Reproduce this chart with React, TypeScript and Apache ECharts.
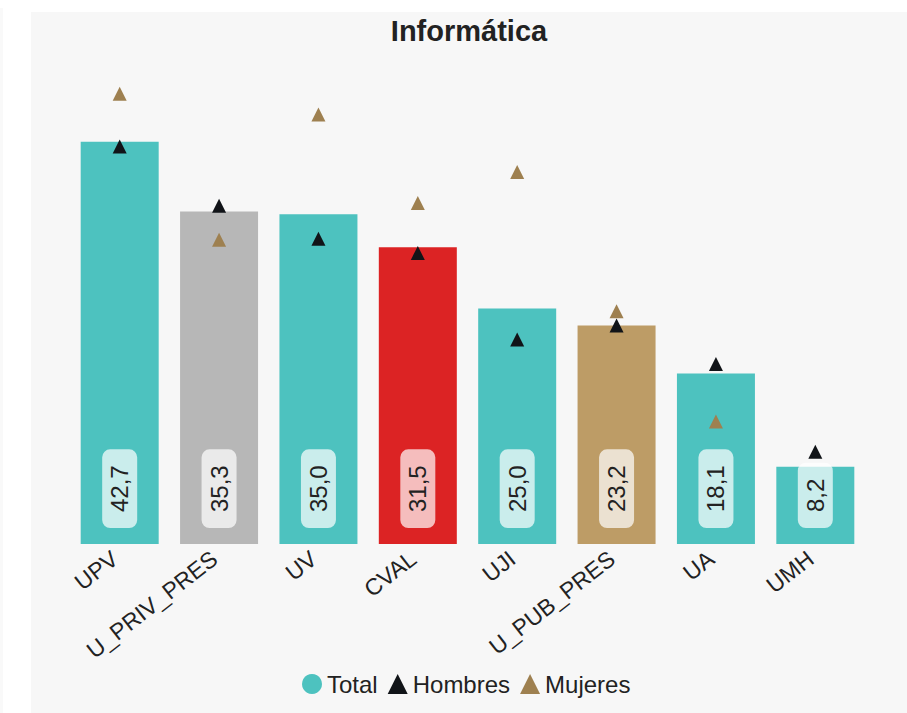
import React, { useEffect, useRef } from "react";
import * as echarts from "echarts";

const categories = ["UPV", "U_PRIV_PRES", "UV", "CVAL", "UJI", "U_PUB_PRES", "UA", "UMH"];
const totalValues = [42.7, 35.3, 35.0, 31.5, 25.0, 23.2, 18.1, 8.2];
const hombresValues = [42.2, 35.9, 32.4, 30.9, 21.7, 23.2, 19.1, 9.8];
const mujeresValues: (number | null)[] = [47.8, 32.3, 45.6, 36.2, 39.5, 24.7, 13.0, null];
const barColors = ["#4dc2bf", "#b7b7b7", "#4dc2bf", "#dc2324", "#4dc2bf", "#bd9c66", "#4dc2bf", "#4dc2bf"];

const FONT = "'Liberation Sans', Arial, Helvetica, sans-serif";

export default function App() {
  const ref = useRef<HTMLDivElement>(null);

  useEffect(() => {
    if (!ref.current) return;
    const chart = echarts.init(ref.current, undefined, { renderer: "svg" });
    chart.setOption({
      animation: false,
      backgroundColor: "#f7f7f7",
      textStyle: { fontFamily: FONT },
      title: {
        text: "Informática",
        left: "center",
        top: -1,
        textStyle: { fontSize: 29, fontWeight: "bold", color: "#222", fontFamily: FONT },
      },
      legend: {
        top: 655,
        left: 266,
        itemWidth: 20,
        itemHeight: 20,
        itemGap: 10,
        textStyle: { fontSize: 24, color: "#222", fontFamily: FONT },
        data: [
          { name: "Total", icon: "circle", itemStyle: { color: "#4dc2bf" } },
          { name: "Hombres", icon: "triangle" },
          { name: "Mujeres", icon: "triangle" },
        ],
      },
      grid: { left: 39, right: 42, top: 61, bottom: 169, outerBoundsMode: "none" },
      xAxis: {
        type: "category",
        data: categories,
        axisLine: { show: false },
        axisTick: { show: false },
        axisLabel: {
          rotate: 38,
          margin: 8,
          interval: 0,
          fontSize: 23,
          color: "#222",
          fontFamily: FONT,
          padding: [0, 6, 0, 0],
        },
      },
      yAxis: { type: "value", min: 0, max: 50, show: false, splitLine: { show: false } },
      series: [
        {
          name: "Total",
          type: "bar",
          barWidth: 78,
          itemStyle: { color: "#4dc2bf" },
          data: totalValues.map((v, i) => ({ value: v, itemStyle: { color: barColors[i] } })),
          label: {
            show: true,
            position: "insideBottom",
            rotate: 90,
            align: "left",
            verticalAlign: "middle",
            distance: 16,
            fontSize: 24,
            lineHeight: 25,
            color: "#222",
            fontFamily: FONT,
            backgroundColor: "rgba(255,255,255,0.7)",
            borderRadius: 8,
            padding: [5, 16],
            formatter: (p: any) => Number(p.value).toFixed(1).replace(".", ","),
          },
          z: 2,
        },
        {
          name: "Hombres",
          type: "scatter",
          symbol: "triangle",
          symbolSize: 14,
          itemStyle: { color: "#111418", opacity: 1 },
          data: hombresValues,
          z: 5,
        },
        {
          name: "Mujeres",
          type: "scatter",
          symbol: "triangle",
          symbolSize: 14,
          itemStyle: { color: "#9e8050", opacity: 1 },
          data: mujeresValues.map((v) => (v === null ? "-" : v)),
          z: 5,
        },
      ],
    });
    return () => chart.dispose();
  }, []);

  return (
    <div style={{ position: "fixed", left: 0, top: 0, width: 907, height: 713, background: "#ffffff", overflow: "hidden" }}>
      <div style={{ position: "absolute", left: 0, top: 8, width: 3, height: 705, background: "#f9f9f9" }} />
      <div ref={ref} style={{ position: "absolute", left: 31, top: 12, width: 876, height: 701 }} />
    </div>
  );
}
